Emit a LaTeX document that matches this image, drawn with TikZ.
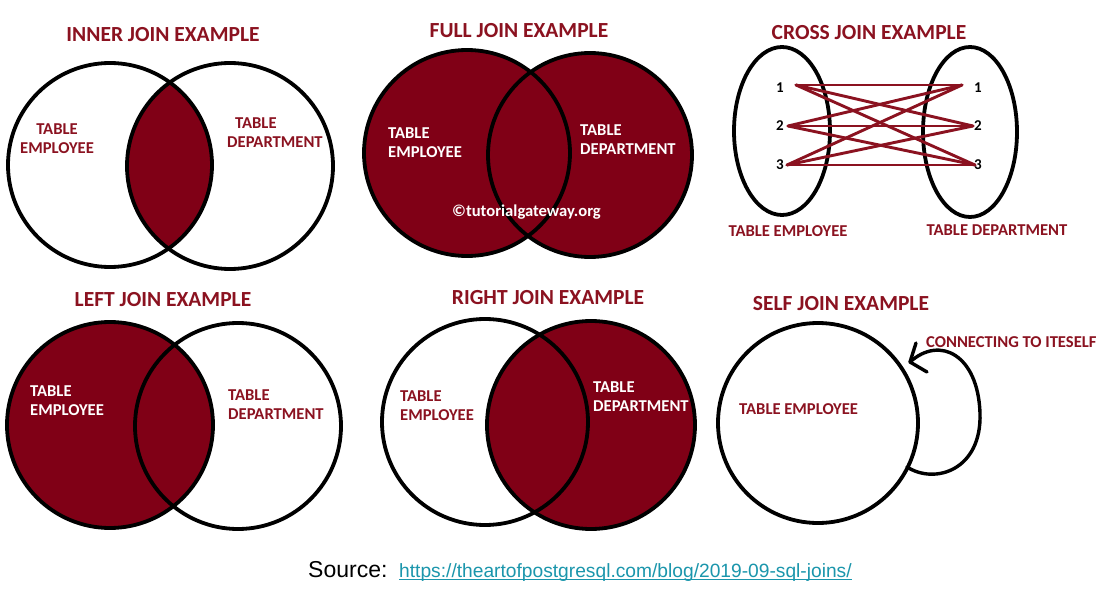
\documentclass[tikz,border=0pt]{standalone}
\usepackage{fontspec}
\setmainfont{Carlito}
\newfontfamily\srcfont{Liberation Sans}
\definecolor{joinfill}{RGB}{128,0,22}
\definecolor{joinred}{RGB}{139,18,32}
\definecolor{linkteal}{RGB}{27,150,172}
\begin{document}
\begin{tikzpicture}[x=1pt,y=-1pt,
  ring/.style={draw=black,line width=3.8pt},
  title/.style={text=joinred,font=\fontsize{21.5}{24}\selectfont\bfseries,inner sep=0pt},
  lbl/.style={font=\fontsize{16.6}{19}\selectfont\bfseries,inner sep=0pt,align=left,anchor=west},
  redlbl/.style={lbl,text=joinred},
  whitelbl/.style={lbl,text=white},
  pair/.style={draw=joinred,line width=2.9pt,line cap=round},
  num/.style={font=\fontsize{15}{18}\selectfont\bfseries,inner sep=0pt}
]
\useasboundingbox[fill=white] (0,0) rectangle (1101,591);

% ---------- INNER JOIN ----------
\node[title] (tinner) at (163,35) {INNER JOIN EXAMPLE};
\coordinate (iA) at (110,165);
\coordinate (iB) at (230,166);
\begin{scope}
  \clip (iA) circle[radius=102pt];
  \fill[joinfill] (iB) circle[radius=103pt];
\end{scope}
\draw[ring] (iA) circle[radius=102pt];
\draw[ring] (iB) circle[radius=103pt];
\node[redlbl,align=center,anchor=center] (iemp) at (57,139) {TABLE\\EMPLOYEE};
\node[redlbl] (idep) at (227,132.5) {\hspace*{8pt}TABLE\\DEPARTMENT};

% ---------- FULL JOIN ----------
\node[title] (tfull) at (519,31) {FULL JOIN EXAMPLE};
\coordinate (fA) at (467,153);
\coordinate (fB) at (590,155);
\fill[joinfill] (fA) circle[radius=103pt];
\fill[joinfill] (fB) circle[radius=102pt];
\draw[ring] (fA) circle[radius=103pt];
\draw[ring] (fB) circle[radius=102pt];
\node[whitelbl] (femp) at (388,142.5) {TABLE\\EMPLOYEE};
\node[whitelbl] (fdep) at (580,139.5) {TABLE\\DEPARTMENT};
\node[whitelbl,anchor=center] (fmark) at (526.5,212) {\textcopyright tutorialgateway.org};

% ---------- CROSS JOIN ----------
\node[title] (tcross) at (869,33) {CROSS JOIN EXAMPLE};
\coordinate (cA) at (782,131);
\coordinate (cB) at (970,132);
\draw[ring] (cA) ellipse[x radius=48pt,y radius=84pt];
\draw[ring] (cB) ellipse[x radius=47pt,y radius=85pt];
\node[num] (e1) at (780,88) {1};
\node[num] (e2) at (780,126) {2};
\node[num] (e3) at (780,165) {3};
\node[num] (d1) at (978,88) {1};
\node[num] (d2) at (978,126) {2};
\node[num] (d3) at (978,165) {3};
\coordinate (L1) at (796,85);
\coordinate (L2) at (788,126);
\coordinate (L3) at (787,165);
\coordinate (R1) at (962,85);
\coordinate (R2) at (973,126);
\coordinate (R3) at (975,165);
\foreach \a in {1,2,3}{
  \foreach \b in {1,2,3}{
    \draw[pair] (L\a) -- (R\b);
  }
}
\node[redlbl,anchor=center] (cemp) at (788,231) {TABLE EMPLOYEE};
\node[redlbl,anchor=center] (cdep) at (997,230) {TABLE DEPARTMENT};

% ---------- LEFT JOIN ----------
\node[title] (tleft) at (163,300) {LEFT JOIN EXAMPLE};
\coordinate (lA) at (110,425);
\coordinate (lB) at (238,426);
\fill[joinfill] (lA) circle[radius=103pt];
\draw[ring] (lA) circle[radius=103pt];
\draw[ring] (lB) circle[radius=103pt];
\node[whitelbl] (lemp) at (30,401) {TABLE\\EMPLOYEE};
\node[redlbl] (ldep) at (228,404.5) {TABLE\\DEPARTMENT};

% ---------- RIGHT JOIN ----------
\node[title] (tright) at (548,298) {RIGHT JOIN EXAMPLE};
\coordinate (rA) at (485,422);
\coordinate (rB) at (591,425);
\fill[joinfill] (rB) circle[radius=104pt];
\draw[ring] (rA) circle[radius=103pt];
\draw[ring] (rB) circle[radius=104pt];
\node[redlbl] (remp) at (400,405.5) {TABLE\\EMPLOYEE};
\node[whitelbl] (rdep) at (593,396.5) {TABLE\\DEPARTMENT};

% ---------- SELF JOIN ----------
\node[title] (tself) at (841,304) {SELF JOIN EXAMPLE};
\coordinate (sA) at (818,423);
\draw[ring] (sA) circle[radius=100pt];
\node[redlbl] (semp) at (739,409) {TABLE EMPLOYEE};
\node[redlbl] (sconn) at (926,342) {CONNECTING TO ITESELF};
\coordinate (loopstart) at (907,467);
\coordinate (tip) at (910,362);
\coordinate (headA) at (916,343);
\coordinate (headB) at (927,372);
\draw[draw=black,line width=3.4pt,line cap=round]
  (loopstart) .. controls (935,485) and (982,470) .. (980,413)
  .. controls (978,355) and (940,335) .. (tip);
\draw[draw=black,line width=3.4pt,line cap=round,line join=round]
  (headA) -- (tip) -- (headB);

% ---------- SOURCE ----------
\node[anchor=base west,inner sep=0pt,font=\srcfont\fontsize{23}{27}\selectfont] (src) at (308,577) {Source:};
\node[anchor=base west,inner sep=0pt,text=linkteal,font=\srcfont\fontsize{19.2}{23}\selectfont] (link) at (399,577) {https://theartofpostgresql.com/blog/2019-09-sql-joins/};
\draw[linkteal,line width=1pt] ([yshift=-2.5pt]link.base west) -- ([yshift=-2.5pt]link.base east);
\end{tikzpicture}
\end{document}
